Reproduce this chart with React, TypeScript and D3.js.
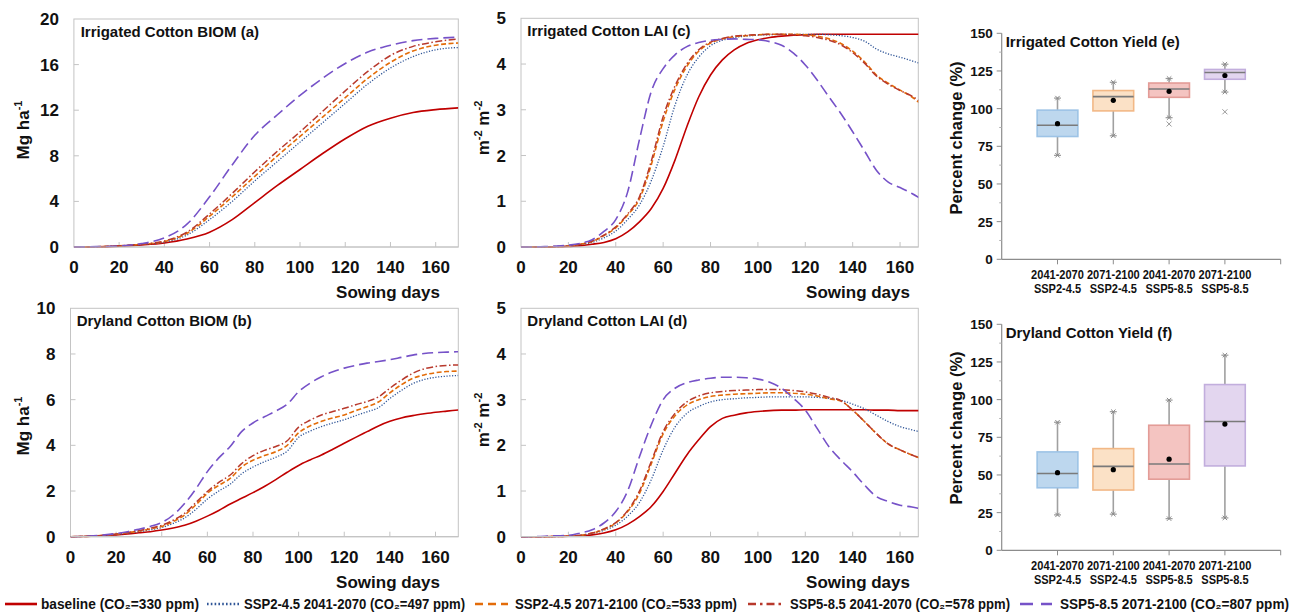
import React from 'react';
import * as d3 from 'd3';

// ---------- series meta ----------
const seriesLabels = [
  'baseline (CO₂=330 ppm)',
  'SSP2-4.5 2041-2070 (CO₂=497 ppm)',
  'SSP2-4.5 2071-2100 (CO₂=533 ppm)',
  'SSP5-8.5 2041-2070 (CO₂=578 ppm)',
  'SSP5-8.5 2071-2100 (CO₂=807 ppm)',
];
const seriesColors = ['#c00000', '#2f5597', '#e36c09', '#b8392c', '#7652c8'];
const seriesDash = ['', '1.2 1.6', '5 2.5', '7 2.5 1.5 2.5', '11 5'];
const seriesWidth = [1.6, 1.3, 1.6, 1.5, 1.6];
const legendDash = ['', '1.6 2.2', '8 5', '8 4 2.5 4', '13 8'];

// ---------- Irrigated BIOM (a) ----------
const daysBiomIrr = [0, 10, 20, 30, 40, 50, 60, 70, 80, 90, 100, 110, 120, 130, 140, 150, 160, 170];
const biomIrrBaseline = [0, 0.02, 0.08, 0.18, 0.35, 0.7, 1.3, 2.4, 3.9, 5.4, 6.8, 8.2, 9.5, 10.6, 11.3, 11.8, 12.05, 12.2];
const biomIrrSsp245a = [0, 0.02, 0.1, 0.22, 0.42, 1.05, 2.4, 4.0, 5.8, 7.5, 9.2, 10.9, 12.6, 14.3, 15.7, 16.7, 17.3, 17.5];
const biomIrrSsp245b = [0, 0.02, 0.1, 0.24, 0.48, 1.2, 2.7, 4.4, 6.2, 8.0, 9.7, 11.4, 13.1, 14.8, 16.2, 17.2, 17.7, 17.9];
const biomIrrSsp585a = [0, 0.02, 0.1, 0.25, 0.52, 1.3, 2.9, 4.7, 6.6, 8.4, 10.1, 11.9, 13.7, 15.4, 16.8, 17.6, 18.0, 18.25];
const biomIrrSsp585b = [0, 0.03, 0.1, 0.3, 0.8, 2.0, 4.4, 7.2, 9.8, 11.6, 13.3, 14.8, 16.1, 17.1, 17.7, 18.1, 18.3, 18.4];

// ---------- Dryland BIOM (b) ----------
const daysBiomDry = [0, 5, 10, 15, 20, 25, 30, 35, 40, 45, 50, 55, 60, 65, 70, 75, 80, 85, 90, 95, 100, 105, 110, 115, 120, 125, 130, 135, 140, 145, 150, 155, 160, 165, 170];
const biomDryBaseline = [0, 0.01, 0.03, 0.05, 0.08, 0.12, 0.17, 0.22, 0.29, 0.38, 0.5, 0.68, 0.9, 1.15, 1.43, 1.68, 1.93, 2.2, 2.5, 2.82, 3.12, 3.36, 3.58, 3.83, 4.09, 4.35, 4.6, 4.85, 5.05, 5.2, 5.3, 5.38, 5.45, 5.5, 5.55];
const biomDrySsp245a = [0, 0.01, 0.03, 0.06, 0.1, 0.15, 0.22, 0.3, 0.4, 0.58, 0.82, 1.2, 1.65, 2.0, 2.3, 2.75, 3.05, 3.28, 3.48, 3.75, 4.35, 4.62, 4.82, 4.98, 5.12, 5.3, 5.47, 5.65, 6.05, 6.4, 6.7, 6.88, 6.98, 7.03, 7.06];
const biomDrySsp245b = [0, 0.01, 0.03, 0.06, 0.11, 0.17, 0.25, 0.34, 0.45, 0.66, 0.95, 1.4, 1.9, 2.25, 2.55, 3.05, 3.35, 3.55, 3.72, 4.0, 4.55, 4.85, 5.05, 5.2, 5.33, 5.52, 5.69, 5.9, 6.3, 6.65, 6.93, 7.08, 7.18, 7.23, 7.25];
const biomDrySsp585a = [0, 0.01, 0.03, 0.07, 0.12, 0.18, 0.27, 0.37, 0.5, 0.72, 1.02, 1.5, 1.98, 2.38, 2.7, 3.2, 3.55, 3.78, 3.95, 4.2, 4.8, 5.1, 5.33, 5.48, 5.62, 5.78, 5.92, 6.12, 6.5, 6.85, 7.15, 7.35, 7.45, 7.5, 7.52];
const biomDrySsp585b = [0, 0.01, 0.04, 0.08, 0.14, 0.22, 0.33, 0.45, 0.62, 0.95, 1.45, 2.1, 2.85, 3.45, 3.95, 4.6, 4.98, 5.25, 5.5, 5.8, 6.35, 6.72, 7.0, 7.22, 7.38, 7.5, 7.6, 7.67, 7.75, 7.85, 7.95, 8.02, 8.06, 8.08, 8.1];

// ---------- LAI (c, d) ----------
const daysLai = [0, 5, 10, 15, 20, 25, 30, 35, 40, 45, 50, 55, 60, 65, 70, 75, 80, 85, 90, 95, 100, 105, 110, 115, 120, 125, 130, 135, 140, 145, 150, 155, 160, 165, 168];
const laiIrrBaseline = [0, 0, 0, 0.005, 0.01, 0.03, 0.06, 0.1, 0.18, 0.33, 0.55, 0.84, 1.28, 1.9, 2.63, 3.28, 3.76, 4.09, 4.31, 4.45, 4.53, 4.58, 4.61, 4.63, 4.64, 4.65, 4.65, 4.65, 4.65, 4.65, 4.65, 4.65, 4.65, 4.65, 4.65];
const laiIrrSsp245a = [0, 0, 0, 0.01, 0.02, 0.05, 0.1, 0.2, 0.35, 0.6, 0.92, 1.45, 2.2, 3.1, 3.75, 4.15, 4.4, 4.52, 4.58, 4.61, 4.63, 4.64, 4.65, 4.65, 4.65, 4.65, 4.64, 4.62, 4.58, 4.5, 4.33, 4.22, 4.15, 4.07, 4.02];
const laiIrrSsp245b = [0, 0, 0, 0.01, 0.02, 0.06, 0.12, 0.25, 0.42, 0.7, 1.05, 1.8, 2.75, 3.45, 3.95, 4.28, 4.46, 4.55, 4.6, 4.62, 4.64, 4.65, 4.65, 4.65, 4.64, 4.61, 4.55, 4.45, 4.28, 4.05, 3.76, 3.58, 3.43, 3.28, 3.16];
const laiIrrSsp585a = [0, 0, 0, 0.01, 0.02, 0.06, 0.13, 0.26, 0.44, 0.72, 1.1, 1.88, 2.85, 3.52, 4.0, 4.31, 4.48, 4.56, 4.61, 4.63, 4.64, 4.65, 4.65, 4.64, 4.62, 4.58, 4.52, 4.42, 4.25, 4.02, 3.74, 3.56, 3.42, 3.3, 3.2];
const laiIrrSsp585b = [0, 0, 0.01, 0.02, 0.04, 0.08, 0.16, 0.34, 0.6, 1.2, 2.35, 3.4, 3.9, 4.2, 4.38, 4.47, 4.52, 4.54, 4.55, 4.54, 4.53, 4.49, 4.41, 4.24, 3.98, 3.65, 3.28, 2.92, 2.52, 2.1, 1.68, 1.42, 1.3, 1.17, 1.08];

const laiDryBaseline = [0, 0, 0, 0.005, 0.01, 0.02, 0.04, 0.08, 0.15, 0.27, 0.44, 0.66, 0.99, 1.39, 1.79, 2.12, 2.41, 2.59, 2.66, 2.71, 2.74, 2.76, 2.77, 2.77, 2.78, 2.78, 2.78, 2.78, 2.78, 2.78, 2.77, 2.77, 2.76, 2.76, 2.76];
const laiDrySsp245a = [0, 0, 0, 0.005, 0.01, 0.03, 0.07, 0.14, 0.25, 0.45, 0.75, 1.25, 1.9, 2.4, 2.7, 2.85, 2.95, 3.0, 3.02, 3.04, 3.05, 3.06, 3.06, 3.06, 3.06, 3.05, 3.03, 2.99, 2.9, 2.8, 2.66, 2.52, 2.41, 2.34, 2.3];
const laiDrySsp245b = [0, 0, 0, 0.005, 0.01, 0.03, 0.08, 0.16, 0.3, 0.55, 0.95, 1.6, 2.25, 2.65, 2.88, 3.0, 3.07, 3.1, 3.12, 3.13, 3.14, 3.15, 3.15, 3.14, 3.12, 3.08, 3.02, 2.97, 2.77, 2.52, 2.26, 2.03, 1.9, 1.79, 1.73];
const laiDrySsp585a = [0, 0, 0, 0.005, 0.01, 0.03, 0.08, 0.17, 0.31, 0.57, 1.0, 1.65, 2.3, 2.7, 2.95, 3.08, 3.15, 3.18, 3.2, 3.21, 3.22, 3.22, 3.22, 3.2, 3.17, 3.12, 3.05, 2.98, 2.77, 2.52, 2.26, 2.03, 1.9, 1.79, 1.73];
const laiDrySsp585b = [0, 0, 0.01, 0.02, 0.03, 0.08, 0.15, 0.3, 0.55, 1.0, 1.75, 2.45, 3.0, 3.25, 3.37, 3.43, 3.47, 3.49, 3.49, 3.48, 3.45, 3.38, 3.25, 3.03, 2.77, 2.37, 1.97, 1.68, 1.42, 1.13, 0.88, 0.77, 0.69, 0.65, 0.62];

// ---------- Yield box plots (e, f) ----------
const boxPeriods = ['2041-2070', '2071-2100', '2041-2070', '2071-2100'];
const boxScenarios = ['SSP2-4.5', 'SSP2-4.5', 'SSP5-8.5', 'SSP5-8.5'];
const boxFills = ['#bdd7ee', '#fbe1c6', '#f4c4c1', '#e3d6ef'];
const boxStrokes = ['#9dc3e6', '#f2b886', '#e39c97', '#c2aedd'];

const irrWhiskerLow = [69, 82, 94, 111];
const irrQ1 = [81.5, 98.5, 107.5, 119.5];
const irrMedian = [89, 108, 113, 124];
const irrQ3 = [99, 112, 117, 126];
const irrWhiskerHigh = [107, 117.5, 120, 129.5];
const irrMean = [90, 105.5, 111.5, 122];
const irrOutliers = [[], [], [89.8], [97.9]];

const dryWhiskerLow = [23.5, 24, 21, 21.5];
const dryQ1 = [41.5, 40, 47.2, 56];
const dryMedian = [51, 55.7, 57.3, 85.5];
const dryQ3 = [65.3, 67.5, 83, 110];
const dryWhiskerHigh = [85, 92, 99.7, 129.5];
const dryMean = [51.5, 53.5, 60.5, 83.8];
const dryOutliers = [[], [], [], []];

const yieldTicks = [0, 25, 50, 75, 100, 125, 150];

const FONT = "'Liberation Sans', Arial, Helvetica, sans-serif";

type LinePanelProps = {
  id: string;
  title: string;
  yLabel: 'mg' | 'm2';
  days: number[];
  series: number[][];
  xMax: number;
  yMax: number;
  yTicks: number[];
  left: number;
  right: number;
  top: number;
  bottom: number;
  yLabelX: number;
  yLabelY: number;
  titleX: number;
  sowingX: number;
};

function LinePanel(p: LinePanelProps) {
  const xs = d3.scaleLinear().domain([0, p.xMax]).range([p.left, p.right]);
  const ys = d3.scaleLinear().domain([0, p.yMax]).range([p.bottom, p.top]);
  const xTicks = d3.range(0, 161, 20);
  const gray = '#c4c4c4';
  return (
    <g>
      <defs>
        <clipPath id={`clip-${p.id}`}>
          <rect x={p.left} y={p.top - 2} width={p.right - p.left} height={p.bottom - p.top + 3} />
        </clipPath>
      </defs>
      <rect x={p.left} y={p.top} width={p.right - p.left} height={p.bottom - p.top} fill="white" stroke={gray} strokeWidth={1} />
      {xTicks.filter((t) => t > 0).map((t) => (
        <line key={`xt${t}`} x1={xs(t)} x2={xs(t)} y1={p.bottom} y2={p.bottom - 5} stroke={gray} strokeWidth={1} />
      ))}
      {p.yTicks.filter((t) => t > 0 && t < p.yMax).map((t) => (
        <line key={`yt${t}`} x1={p.left} x2={p.left + 5} y1={ys(t)} y2={ys(t)} stroke={gray} strokeWidth={1} />
      ))}
      <g clipPath={`url(#clip-${p.id})`}>
        {p.series.map((vals, si) => {
          const gen = d3
            .line<number>()
            .x((_, i) => xs(p.days[i]))
            .y((d) => ys(d))
            .curve(d3.curveMonotoneX);
          return (
            <path
              key={si}
              d={gen(vals) || ''}
              fill="none"
              stroke={seriesColors[si]}
              strokeWidth={seriesWidth[si]}
              strokeDasharray={seriesDash[si] || undefined}
            />
          );
        })}
      </g>
      <line x1={p.left} x2={p.right} y1={p.bottom} y2={p.bottom} stroke={gray} strokeWidth={1.2} />
      {xTicks.map((t) => (
        <text key={`xl${t}`} x={xs(t)} y={p.bottom + 26} textAnchor="middle" fontFamily={FONT} fontWeight="bold" fontSize={17} fill="#111">
          {t}
        </text>
      ))}
      {p.yTicks.map((t) => (
        <text key={`yl${t}`} x={p.left - 15} y={ys(t) + 6} textAnchor="end" fontFamily={FONT} fontWeight="bold" fontSize={17} fill="#111">
          {t}
        </text>
      ))}
      <text x={p.titleX} y={p.top + 18} fontFamily={FONT} fontWeight="bold" fontSize={15} fill="#111">
        {p.title}
      </text>
      <text x={p.sowingX} y={p.bottom + 51} textAnchor="end" fontFamily={FONT} fontWeight="bold" fontSize={17} fill="#111">
        Sowing days
      </text>
      <text
        transform={`translate(${p.yLabelX},${p.yLabelY}) rotate(-90)`}
        textAnchor="middle"
        fontFamily={FONT}
        fontWeight="bold"
        fontSize={17}
        fill="#111"
      >
        {p.yLabel === 'mg' ? (
          <>
            Mg ha<tspan fontSize={11} dy={-7}>-1</tspan>
          </>
        ) : (
          <>
            m<tspan fontSize={11} dy={-7}>-2</tspan>
            <tspan dy={7}> m</tspan>
            <tspan fontSize={11} dy={-7}>-2</tspan>
          </>
        )}
      </text>
    </g>
  );
}

type BoxPanelProps = {
  title: string;
  top: number;
  bottom: number;
  low: number[];
  q1: number[];
  med: number[];
  q3: number[];
  high: number[];
  mean: number[];
  outliers: number[][];
  yLabelY: number;
};

function BoxPanel(p: BoxPanelProps) {
  const left = 1001.7;
  const right = 1280.7;
  const xs = d3.scaleLinear().domain([0, 5]).range([left, right]);
  const ys = d3.scaleLinear().domain([0, 150]).range([p.bottom, p.top]);
  const axis = '#8c8c8c';
  const boxW = 0.73;
  const minor = d3.range(12.5, 150, 25);
  return (
    <g>
      <line x1={left} x2={left} y1={p.top} y2={p.bottom} stroke={axis} strokeWidth={1.2} />
      <line x1={left} x2={right} y1={p.bottom} y2={p.bottom} stroke={axis} strokeWidth={1.2} />
      {yieldTicks.map((t) => (
        <g key={`t${t}`}>
          <line x1={left - 5} x2={left} y1={ys(t)} y2={ys(t)} stroke={axis} strokeWidth={1} />
          <text x={left - 9} y={ys(t) + 5} textAnchor="end" fontFamily={FONT} fontWeight="bold" fontSize={13.5} fill="#111">
            {t}
          </text>
        </g>
      ))}
      {minor.map((t) => (
        <line key={`m${t}`} x1={left - 2.5} x2={left} y1={ys(t)} y2={ys(t)} stroke="#b0b0b0" strokeWidth={1} />
      ))}
      {[1, 2, 3, 4, 5].map((c) => (
        <line key={`c${c}`} x1={xs(c)} x2={xs(c)} y1={p.bottom} y2={p.bottom + 5} stroke={axis} strokeWidth={1} />
      ))}
      {boxPeriods.map((per, i) => {
        const cx = xs(i + 1);
        const bw = xs(boxW) - xs(0);
        const capW = 7;
        return (
          <g key={`b${i}`}>
            <line x1={cx} x2={cx} y1={ys(p.high[i])} y2={ys(p.q3[i])} stroke="#a0a0a0" strokeWidth={1.6} />
            <line x1={cx} x2={cx} y1={ys(p.q1[i])} y2={ys(p.low[i])} stroke="#a0a0a0" strokeWidth={1.6} />
            <line x1={cx - capW / 2} x2={cx + capW / 2} y1={ys(p.high[i])} y2={ys(p.high[i])} stroke="#999" strokeWidth={1.2} />
            <line x1={cx - capW / 2} x2={cx + capW / 2} y1={ys(p.low[i])} y2={ys(p.low[i])} stroke="#999" strokeWidth={1.2} />
            {[p.high[i], p.low[i]].map((v, k) => (
              <path key={`x${k}`} d={`M${cx - 2.2},${ys(v) - 2.2}L${cx + 2.2},${ys(v) + 2.2}M${cx - 2.2},${ys(v) + 2.2}L${cx + 2.2},${ys(v) - 2.2}`} stroke="#888" strokeWidth={1} />
            ))}
            <rect
              x={cx - bw / 2}
              y={ys(p.q3[i])}
              width={bw}
              height={ys(p.q1[i]) - ys(p.q3[i])}
              fill={boxFills[i]}
              stroke={boxStrokes[i]}
              strokeWidth={1.6}
            />
            <line x1={cx - bw / 2} x2={cx + bw / 2} y1={ys(p.med[i])} y2={ys(p.med[i])} stroke="#7a7a7a" strokeWidth={1.6} />
            <circle cx={cx} cy={ys(p.mean[i])} r={2.6} fill="#000" />
            {p.outliers[i].map((v, k) => (
              <path key={`o${k}`} d={`M${cx - 2.5},${ys(v) - 2.5}L${cx + 2.5},${ys(v) + 2.5}M${cx - 2.5},${ys(v) + 2.5}L${cx + 2.5},${ys(v) - 2.5}`} stroke="#999" strokeWidth={1} />
            ))}
            <text transform={`translate(${cx},${p.bottom + 20}) scale(0.85,1)`} textAnchor="middle" fontFamily={FONT} fontWeight="bold" fontSize={13} fill="#111">
              {per}
            </text>
            <text transform={`translate(${cx},${p.bottom + 34}) scale(0.85,1)`} textAnchor="middle" fontFamily={FONT} fontWeight="bold" fontSize={13} fill="#111">
              {boxScenarios[i]}
            </text>
          </g>
        );
      })}
      <text x={left + 4} y={p.top + 14} fontFamily={FONT} fontWeight="bold" fontSize={15} fill="#111">
        {p.title}
      </text>
      <text transform={`translate(962,${p.yLabelY}) rotate(-90)`} textAnchor="middle" fontFamily={FONT} fontWeight="bold" fontSize={16.5} fill="#111">
        Percent change (%)
      </text>
    </g>
  );
}

const legendPos = [
  { x0: 5, x1: 37, tx: 41, w: 158 },
  { x0: 207, x1: 240, tx: 244, w: 221 },
  { x0: 475, x1: 508, tx: 515, w: 222 },
  { x0: 748, x1: 782, tx: 790, w: 220 },
  { x0: 1020, x1: 1052, tx: 1060, w: 229 },
];

export default function App() {
  const biomIrr = [biomIrrBaseline, biomIrrSsp245a, biomIrrSsp245b, biomIrrSsp585a, biomIrrSsp585b];
  const biomDry = [biomDryBaseline, biomDrySsp245a, biomDrySsp245b, biomDrySsp585a, biomDrySsp585b];
  const laiIrr = [laiIrrBaseline, laiIrrSsp245a, laiIrrSsp245b, laiIrrSsp585a, laiIrrSsp585b];
  const laiDry = [laiDryBaseline, laiDrySsp245a, laiDrySsp245b, laiDrySsp585a, laiDrySsp585b];
  const ly = 604;
  return (
    <svg width={1298} height={615} style={{ position: 'absolute', left: 0, top: 0, background: '#fff' }}>
      <rect x={0} y={0} width={1298} height={615} fill="#fff" />
      <LinePanel id="a" title="Irrigated Cotton BIOM (a)" yLabel="mg" days={daysBiomIrr} series={biomIrr} xMax={170} yMax={20} yTicks={[0, 4, 8, 12, 16, 20]}
        left={73.9} right={458.3} top={19} bottom={247} yLabelX={29} yLabelY={130} titleX={80.7} sowingX={440} />
      <LinePanel id="b" title="Dryland Cotton BIOM (b)" yLabel="mg" days={daysBiomDry} series={biomDry} xMax={170} yMax={10} yTicks={[0, 2, 4, 6, 8, 10]}
        left={70.5} right={458.3} top={308.3} bottom={536.7} yLabelX={29} yLabelY={426} titleX={76.7} sowingX={440} />
      <LinePanel id="c" title="Irrigated Cotton LAI (c)" yLabel="m2" days={daysLai} series={laiIrr} xMax={167.7} yMax={5} yTicks={[0, 1, 2, 3, 4, 5]}
        left={521} right={918.3} top={18.3} bottom={247} yLabelX={489} yLabelY={128} titleX={527.3} sowingX={910} />
      <LinePanel id="d" title="Dryland Cotton LAI (d)" yLabel="m2" days={daysLai} series={laiDry} xMax={167.7} yMax={5} yTicks={[0, 1, 2, 3, 4, 5]}
        left={521} right={918.3} top={308.3} bottom={536.7} yLabelX={489} yLabelY={420} titleX={527.3} sowingX={910} />
      <BoxPanel title="Irrigated Cotton Yield (e)" top={33.3} bottom={259.3} low={irrWhiskerLow} q1={irrQ1} med={irrMedian} q3={irrQ3} high={irrWhiskerHigh} mean={irrMean} outliers={irrOutliers} yLabelY={138} />
      <BoxPanel title="Dryland Cotton Yield (f)" top={324.3} bottom={550.3} low={dryWhiskerLow} q1={dryQ1} med={dryMedian} q3={dryQ3} high={dryWhiskerHigh} mean={dryMean} outliers={dryOutliers} yLabelY={428} />
      {legendPos.map((lp, i) => (
        <g key={`lg${i}`}>
          <line x1={lp.x0} x2={lp.x1} y1={ly} y2={ly} stroke={seriesColors[i]} strokeWidth={2.6} strokeDasharray={legendDash[i] || undefined} />
          <text x={lp.tx} y={ly + 5} fontFamily={FONT} fontWeight="bold" fontSize={14} fill="#111" textLength={lp.w} lengthAdjust="spacingAndGlyphs">
            {seriesLabels[i]}
          </text>
        </g>
      ))}
    </svg>
  );
}
